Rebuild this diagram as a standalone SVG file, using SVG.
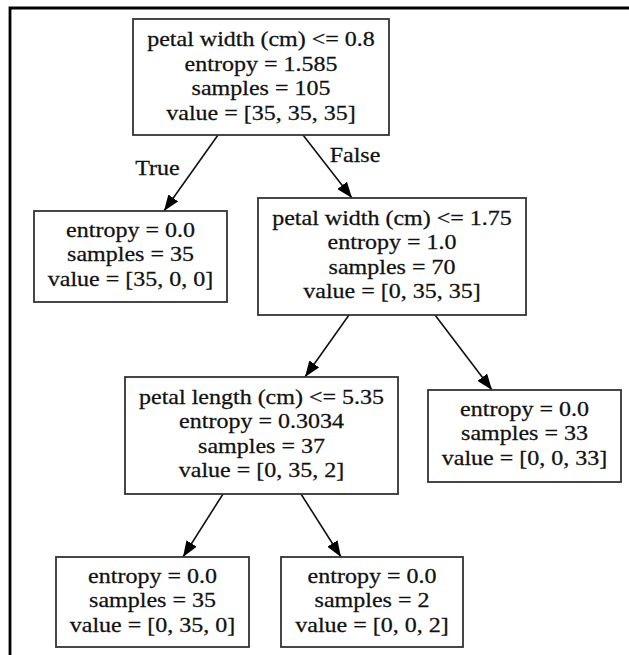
<svg xmlns="http://www.w3.org/2000/svg" width="629" height="655" viewBox="0 0 629 655">
<defs>
<style>
.box{fill:#fff;stroke:#333;stroke-width:1.8}
.t{font-family:"Liberation Serif","Times New Roman",serif;font-size:24px;fill:#111;stroke:#111;stroke-width:0.3;text-anchor:middle}
.e{stroke:#111;stroke-width:1.6;fill:none;marker-end:url(#ah)}
.frame{stroke:#000;stroke-width:2.8;fill:none}
</style>
<marker id="ah" viewBox="0 0 16 12" refX="16" refY="6" markerWidth="16" markerHeight="12" markerUnits="userSpaceOnUse" orient="auto">
<path d="M0,0 L16,6 L0,12 z" fill="#000"/>
</marker>
</defs>
<rect x="0" y="0" width="629" height="655" fill="#fff"/>
<path class="frame" d="M629,8 L10,8 L10,655"/>

<g id="edges">
<line class="e" x1="218" y1="135" x2="164" y2="211"/>
<line class="e" x1="303" y1="135" x2="352" y2="198"/>
<line class="e" x1="349" y1="315" x2="305" y2="377"/>
<line class="e" x1="435" y1="315" x2="492" y2="390"/>
<line class="e" x1="223" y1="494" x2="183" y2="557"/>
<line class="e" x1="301" y1="494" x2="341" y2="557"/>
<text class="t" transform="translate(157.5,175) scale(1,0.86)">True</text>
<text class="t" transform="translate(355,162) scale(1,0.86)">False</text>
</g>

<g id="n0">
<rect class="box" x="133" y="19" width="256" height="116"/>
<text class="t" transform="translate(261,46) scale(1,0.86)">petal width (cm) &lt;= 0.8</text>
<text class="t" transform="translate(261,71) scale(1,0.86)">entropy = 1.585</text>
<text class="t" transform="translate(261,95) scale(1,0.86)">samples = 105</text>
<text class="t" transform="translate(261,120) scale(1,0.86)">value = [35, 35, 35]</text>
</g>

<g id="n1">
<rect class="box" x="34" y="211" width="193" height="91"/>
<text class="t" transform="translate(130.5,237) scale(1,0.86)">entropy = 0.0</text>
<text class="t" transform="translate(130.5,261) scale(1,0.86)">samples = 35</text>
<text class="t" transform="translate(130.5,286) scale(1,0.86)">value = [35, 0, 0]</text>
</g>

<g id="n2">
<rect class="box" x="258" y="198" width="268" height="117"/>
<text class="t" transform="translate(392,225) scale(1,0.86)">petal width (cm) &lt;= 1.75</text>
<text class="t" transform="translate(392,249) scale(1,0.86)">entropy = 1.0</text>
<text class="t" transform="translate(392,274) scale(1,0.86)">samples = 70</text>
<text class="t" transform="translate(392,298) scale(1,0.86)">value = [0, 35, 35]</text>
</g>

<g id="n3">
<rect class="box" x="125" y="377" width="273" height="117"/>
<text class="t" transform="translate(261.5,404) scale(1,0.86)">petal length (cm) &lt;= 5.35</text>
<text class="t" transform="translate(261.5,428) scale(1,0.86)">entropy = 0.3034</text>
<text class="t" transform="translate(261.5,453) scale(1,0.86)">samples = 37</text>
<text class="t" transform="translate(261.5,477) scale(1,0.86)">value = [0, 35, 2]</text>
</g>

<g id="n4">
<rect class="box" x="428" y="390" width="193" height="92"/>
<text class="t" transform="translate(524.5,416) scale(1,0.86)">entropy = 0.0</text>
<text class="t" transform="translate(524.5,440) scale(1,0.86)">samples = 33</text>
<text class="t" transform="translate(524.5,465) scale(1,0.86)">value = [0, 0, 33]</text>
</g>

<g id="n5">
<rect class="box" x="56" y="557" width="193" height="90"/>
<text class="t" transform="translate(152.5,583) scale(1,0.86)">entropy = 0.0</text>
<text class="t" transform="translate(152.5,607) scale(1,0.86)">samples = 35</text>
<text class="t" transform="translate(152.5,632) scale(1,0.86)">value = [0, 35, 0]</text>
</g>

<g id="n6">
<rect class="box" x="281" y="557" width="182" height="90"/>
<text class="t" transform="translate(372,583) scale(1,0.86)">entropy = 0.0</text>
<text class="t" transform="translate(372,607) scale(1,0.86)">samples = 2</text>
<text class="t" transform="translate(372,632) scale(1,0.86)">value = [0, 0, 2]</text>
</g>
</svg>
